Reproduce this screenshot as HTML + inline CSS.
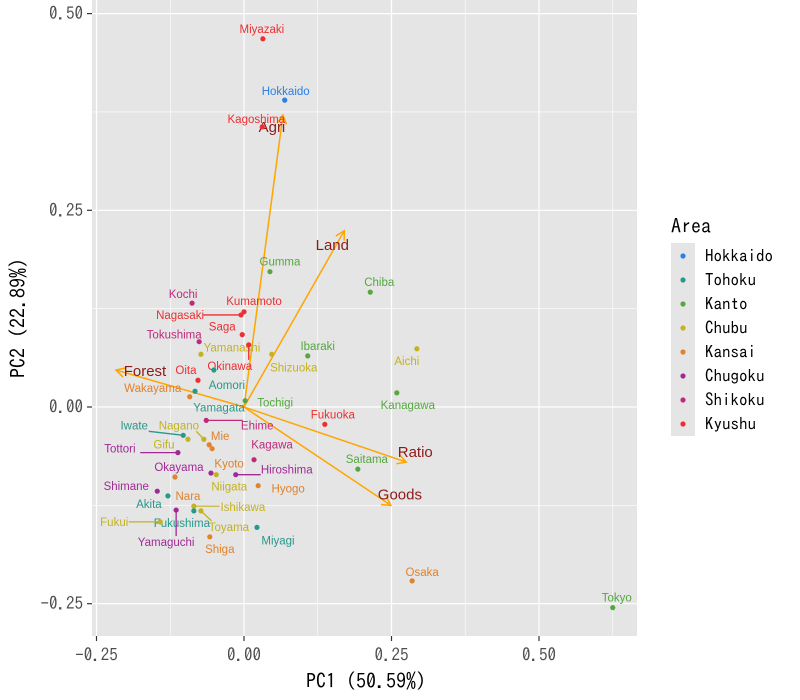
<!DOCTYPE html>
<html><head><meta charset="utf-8"><style>
body{margin:0;background:#fff;}
svg{display:block;font-family:"Liberation Sans",sans-serif;}
.ax{font-family:"IPAGothic","DejaVu Sans Mono",monospace;}
</style></head><body>
<svg id="chart" width="800" height="700">
<rect x="92" y="0" width="545" height="636" fill="#e5e5e5"/>
<g id="grid"></g>
<g id="arrows"></g>
<g id="pts"></g>
<g id="axes" class="ax"></g>
<text class="ax" x="366" y="688" font-size="20" text-anchor="middle" fill="#000">PC1 (50.59%)</text>
<text class="ax" x="0" y="0" font-size="20" text-anchor="middle" transform="translate(25,318) rotate(-90)" fill="#000">PC2 (22.89%)</text>
<g id="legend"></g>
</svg>
<script>
const names=["Miyazaki","Hokkaido","Kagoshima","Gumma","Chiba","Kochi","Kumamoto","Nagasaki","Saga","Tokushima","Yamanashi","Okinawa","Shizuoka","Ibaraki","Aichi","Oita","Aomori","Wakayama","Yamagata","Tochigi","Kanagawa","Fukuoka","Ehime","Iwate","Nagano","Gifu","Mie","Kyoto","Tottori","Kagawa","Okayama","Niigata","Hiroshima","Hyogo","Shimane","Akita","Nara","Ishikawa","Fukushima","Toyama","Yamaguchi","Fukui","Miyagi","Shiga","Saitama","Osaka","Tokyo"];
const areas=["Kyushu","Hokkaido","Kyushu","Kanto","Kanto","Shikoku","Kyushu","Kyushu","Kyushu","Shikoku","Chubu","Kyushu","Chubu","Kanto","Chubu","Kyushu","Tohoku","Kansai","Tohoku","Kanto","Kanto","Kyushu","Shikoku","Tohoku","Chubu","Chubu","Kansai","Kansai","Chugoku","Shikoku","Chugoku","Chubu","Chugoku","Kansai","Chugoku","Tohoku","Kansai","Chubu","Tohoku","Chubu","Chugoku","Chubu","Tohoku","Kansai","Kanto","Kansai","Kanto"];
const pc1=[0.032,0.069,0.031,0.044,0.214,-0.088,0.000,-0.005,-0.003,-0.076,-0.073,0.008,0.047,0.108,0.293,-0.078,-0.051,-0.092,-0.083,0.002,0.259,0.137,-0.064,-0.103,-0.068,-0.095,-0.059,-0.054,-0.112,0.017,-0.056,-0.047,-0.014,0.024,-0.147,-0.129,-0.117,-0.085,-0.085,-0.073,-0.115,-0.142,0.022,-0.058,0.193,0.285,0.625];
const pc2=[0.468,0.390,0.356,0.172,0.146,0.132,0.121,0.117,0.092,0.083,0.067,0.079,0.067,0.065,0.074,0.034,0.047,0.013,0.020,0.008,0.018,-0.022,-0.017,-0.036,-0.041,-0.041,-0.048,-0.053,-0.058,-0.067,-0.084,-0.086,-0.086,-0.100,-0.107,-0.113,-0.089,-0.126,-0.132,-0.132,-0.131,-0.146,-0.153,-0.165,-0.079,-0.221,-0.255];
const labelDx=[-1,1,-6,10,9,-9,10,-61,-20,-25,31,-19,22,10,-10,-12,13,-37,24,30,11,8,51,-49,-25,-24,11,17,-58,18,-32,13,51,30,-31,-19,13,49,-12,28,-10,-46,21,10,9,10,4];
const labelDy=[-10,-9,-8,-10,-10,-9,-11,0,-8,-7,-7,21,13,-10,12,-10,15,-9,16,2,12,-10,5,-10,-14,5,-9,15,-4,-15,-6,12,-5,3,-5,8,19,1,12,16,32,0,13,12,-10,-9,-10];
const hasSegment=[0,0,0,0,0,0,0,1,0,0,0,1,0,0,0,0,0,0,0,0,0,0,1,1,1,0,0,0,1,0,0,0,1,0,0,0,0,1,0,1,1,1,0,0,0,0,0];
const varNames=["Agri","Land","Forest","Ratio","Goods"];
const loadX=[0.066,0.170,-0.217,0.275,0.249];
const loadY=[0.371,0.224,0.047,-0.070,-0.125];
const varLabelDx=[-11,-12,29,9,9];
const varLabelDy=[12,14,1,-10,-11];
const xTicks=[-0.25,0,0.25,0.5];
const xTickLabels=["-0.25","0.00","0.25","0.50"];
const yTicks=[0.5,0.25,0,-0.25];
const yTickLabels=["0.50","0.25","0.00","-0.25"];
const areaOrder=["Hokkaido","Tohoku","Kanto","Chubu","Kansai","Chugoku","Shikoku","Kyushu"];
const areaColors=["#2a7fe8","#27998a","#55a840","#c4b21f","#e0822e","#a02a95","#bf2a7c","#ec2f32"];

const NS="http://www.w3.org/2000/svg";
const X=v=>244+v*590, Y=v=>407-v*786.8;
function mk(tag,attrs,parent){const e=document.createElementNS(NS,tag);for(const k in attrs)e.setAttribute(k,attrs[k]);parent.appendChild(e);return e;}
const grid=document.getElementById('grid');
[-0.125,0.125,0.375,0.625].forEach(v=>{const l=mk('line',{x1:X(v),x2:X(v),y1:0,y2:636,stroke:'#fff','stroke-width':0.6},grid);});
[0.375,0.125,-0.125].forEach(v=>{const l=mk('line',{y1:Y(v),y2:Y(v),x1:92,x2:637,stroke:'#fff','stroke-width':0.6},grid);});
const axes=document.getElementById('axes');
xTicks.forEach((v,i)=>{
 const l=mk('line',{x1:X(v),x2:X(v),y1:0,y2:636,stroke:'#fff','stroke-width':1.2},grid);
 const t=mk('line',{x1:X(v),x2:X(v),y1:636,y2:641,stroke:'#333','stroke-width':1.2},axes);
 const tx=mk('text',{x:X(v),y:661,'font-size':17,'text-anchor':'middle',fill:'#4d4d4d'},axes);tx.textContent=xTickLabels[i];
});
yTicks.forEach((v,i)=>{
 const l=mk('line',{y1:Y(v),y2:Y(v),x1:92,x2:637,stroke:'#fff','stroke-width':1.2},grid);
 const t=mk('line',{y1:Y(v),y2:Y(v),x1:87,x2:92,stroke:'#333','stroke-width':1.2},axes);
 const tx=mk('text',{x:83,y:Y(v)+6,'font-size':17,'text-anchor':'end',fill:'#4d4d4d'},axes);tx.textContent=yTickLabels[i];
});
const ar=document.getElementById('arrows');
varNames.forEach((n,i)=>{
 const x2=X(loadX[i]),y2=Y(loadY[i]),x1=X(0),y1=Y(0);
 const l=mk('line',{x1,y1,x2,y2,stroke:'#ffa500','stroke-width':1.5},ar);
 const a=Math.atan2(y2-y1,x2-x1),h=10,s=0.5;
 const p=`${x2-h*Math.cos(a-s)},${y2-h*Math.sin(a-s)} ${x2},${y2} ${x2-h*Math.cos(a+s)},${y2-h*Math.sin(a+s)}`;
 const hd=mk('polyline',{points:p,fill:'none',stroke:'#ffa500','stroke-width':1.5},ar);
});
const pts=document.getElementById('pts');
names.forEach((n,i)=>{
 const c=areaColors[areaOrder.indexOf(areas[i])];
 const px=X(pc1[i]),py=Y(pc2[i]),lx=px+labelDx[i],ly=py+labelDy[i];
 const w=n.length*5.8;
 if(hasSegment[i]){
   const ex=Math.max(lx-w/2,Math.min(px,lx+w/2)),ey=Math.max(ly-6,Math.min(py,ly+6));
   const sg=mk('line',{x1:px,y1:py,x2:ex,y2:ey,stroke:c,'stroke-width':1.3},pts);
 }
 const d=mk('circle',{cx:px,cy:py,r:2.6,fill:c},pts);
 
 
 const t=mk('text',{x:lx,y:ly+4,'font-size':11.5,'text-anchor':'middle',fill:c},pts);t.textContent=n;
 
 
});
varNames.forEach((n,i)=>{
 const t=mk('text',{x:X(loadX[i])+varLabelDx[i],y:Y(loadY[i])+varLabelDy[i]+5,'font-size':15,'text-anchor':'middle',fill:'#8b1a1a'},ar);t.textContent=n;
 
 
});
const lg=document.getElementById('legend');
const tt=mk('text',{x:671,y:233,'font-size':20,fill:'#000',class:'ax'},lg);tt.textContent='Area';
const kb=mk('rect',{x:671,y:243,width:24,height:193,fill:'#e5e5e5'},lg);
areaOrder.forEach((a,i)=>{
 const cy=256+i*24;
 const c=mk('circle',{cx:683,cy:cy,r:2.6,fill:areaColors[i]},lg);
 const t=mk('text',{x:705,y:cy+6,'font-size':17,fill:'#000',class:'ax'},lg);t.textContent=a;
});
</script>
</body></html>
